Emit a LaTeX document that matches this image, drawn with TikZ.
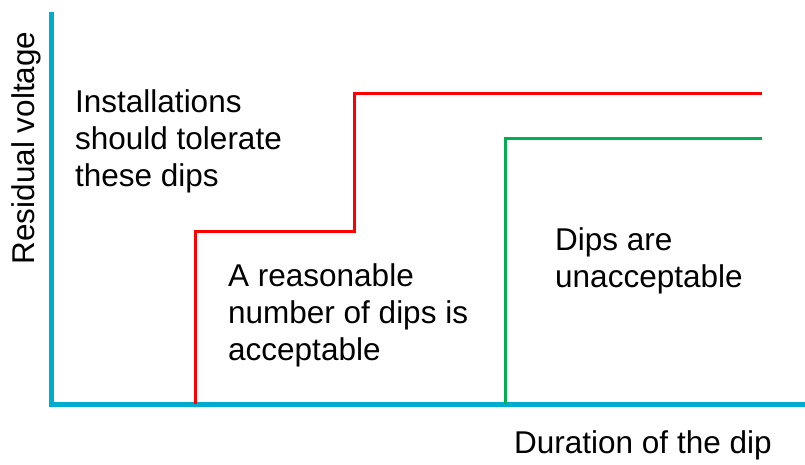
\documentclass[tikz,border=0pt]{standalone}
\usepackage{fontspec}
\setmainfont{Liberation Sans}
\definecolor{axiscol}{RGB}{0,172,206}
\definecolor{limred}{RGB}{255,0,0}
\definecolor{limgreen}{RGB}{0,176,80}
\begin{document}
\begin{tikzpicture}[x=1pt,y=1pt,
  axisline/.style={draw=axiscol,line width=5pt},
  redlim/.style={draw=limred,line width=3pt},
  greenlim/.style={draw=limgreen,line width=3pt},
  lbl/.style={font=\fontsize{31.5}{37}\selectfont,inner sep=0pt,align=left,anchor=base west,text=black}]
\useasboundingbox (0,0) rectangle (805,464);
\coordinate (ytop) at (51,452);
\coordinate (orig) at (51,60);
\coordinate (xend) at (805,60);
\draw[axisline] (ytop) -- (orig) -- (xend);
\coordinate (r0) at (195,60);
\coordinate (r1) at (195,233);
\coordinate (r2) at (354,233);
\coordinate (r3) at (354,370);
\coordinate (r4) at (762,370);
\draw[redlim] (r0) -- (r1) -- (r2) -- (r3) -- (r4);
\coordinate (g0) at (505,60);
\coordinate (g1) at (505,325);
\coordinate (g2) at (762,325);
\draw[greenlim] (g0) -- (g1) -- (g2);
\node[lbl] (tol) at (75,277) {Installations\\should tolerate\\these dips};
\node[lbl] (acc) at (228,104) {A reasonable\\number of dips is\\acceptable};
\node[lbl] (unacc) at (555,177) {Dips are\\unacceptable};
\node[lbl] (xlab) at (514,11) {Duration of the dip};
\node[lbl,anchor=base,rotate=90] (ylab) at (35,316) {Residual voltage};
\end{tikzpicture}
\end{document}
